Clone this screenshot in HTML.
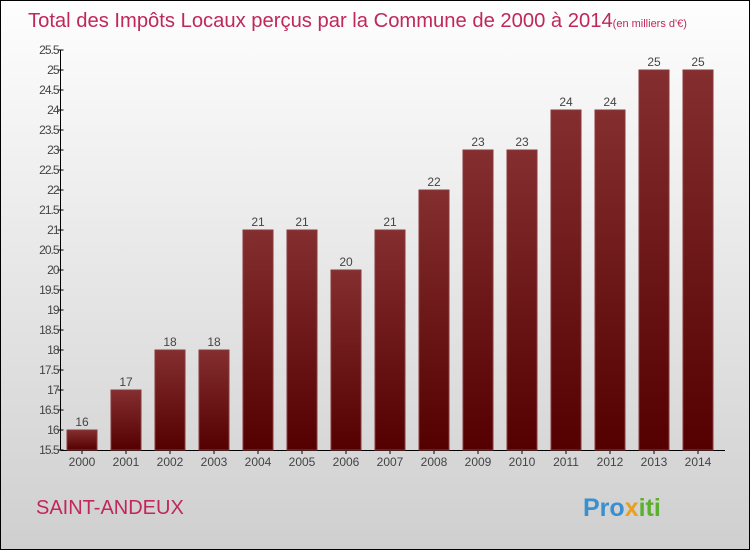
<!DOCTYPE html>
<html><head><meta charset="utf-8"><style>
html,body{margin:0;padding:0}
body{width:750px;height:550px;overflow:hidden;font-family:"Liberation Sans",sans-serif}
</style></head><body>
<svg id="c" width="750" height="550" xmlns="http://www.w3.org/2000/svg">
<defs>
<linearGradient id="bg" x1="0" y1="0" x2="0" y2="1"><stop offset="0" stop-color="#fefefe"/><stop offset="1" stop-color="#cfcfcf"/></linearGradient>
<linearGradient id="bar" x1="0" y1="0" x2="0" y2="1"><stop offset="0" stop-color="#842e30"/><stop offset="1" stop-color="#540000"/></linearGradient>
</defs>
<rect x="0.5" y="0.5" width="749" height="549" fill="url(#bg)" stroke="#000"/>
<text x="28" y="27" font-size="20.2" fill="#c0275a">Total des Impôts Locaux perçus par la Commune de 2000 à 2014<tspan font-size="11">(en milliers d'€)</tspan></text>
<text x="36" y="514" font-size="20" fill="#c0275a">SAINT-ANDEUX</text>
<text x="583" y="516" font-size="25" font-weight="bold" fill="#3a8fd0">Pro<tspan fill="#e8a020">x</tspan><tspan fill="#5cb030">iti</tspan></text>
<g id="axes"></g><g id="bars"></g>
</svg>
<script>
const years=["2000","2001","2002","2003","2004","2005","2006","2007","2008","2009","2010","2011","2012","2013","2014"];
const values=[16,17,18,18,21,21,20,21,22,23,23,24,24,25,25];
const yTicks=[15.5,16,16.5,17,17.5,18,18.5,19,19.5,20,20.5,21,21.5,22,22.5,23,23.5,24,24.5,25,25.5];
const NS="http://www.w3.org/2000/svg";
const yMin=15.5,yMax=25.5,plotTop=50,plotBot=450,axX=60.5;
const yS=v=>plotBot-(v-yMin)/(yMax-yMin)*(plotBot-plotTop);
const xS=i=>82+i*44;
function mk(t,a,p){const e=document.createElementNS(NS,t);for(const k in a)e.setAttribute(k,a[k]);p.appendChild(e);return e;}
const ax=document.getElementById('axes'),bs=document.getElementById('bars');
let l=mk('line',{x1:axX,y1:plotTop,x2:axX,y2:plotBot,stroke:'#000'},ax);


l=mk('line',{x1:axX,y1:plotBot+0.5,x2:725,y2:plotBot+0.5,stroke:'#000'},ax);


yTicks.forEach(v=>{
 mk('line',{x1:axX-3,x2:axX+3,y1:yS(v),y2:yS(v),stroke:'#000'},ax);
 const t=mk('text',{x:axX-2,y:yS(v)+4,'font-size':12,fill:'#444','text-anchor':'end','letter-spacing':'-1'},ax);
 t.textContent=v;
 
 
});
values.forEach((v,i)=>{
 const r=mk('rect',{x:xS(i)-15,y:yS(v),width:30,height:plotBot-yS(v),fill:'url(#bar)',stroke:'#8a3a3c','stroke-width':1},bs);
 
 
 const t=mk('text',{x:xS(i),y:yS(v)-4,'font-size':12,fill:'#444','text-anchor':'middle'},bs);
 t.textContent=v;
 
 
 mk('line',{x1:xS(i),x2:xS(i),y1:plotBot,y2:plotBot+4,stroke:'#000'},ax);
 const yl=mk('text',{x:xS(i),y:plotBot+16,'font-size':12,fill:'#444','text-anchor':'middle'},ax);
 yl.textContent=years[i];
 
 
});
</script>
</body></html>
